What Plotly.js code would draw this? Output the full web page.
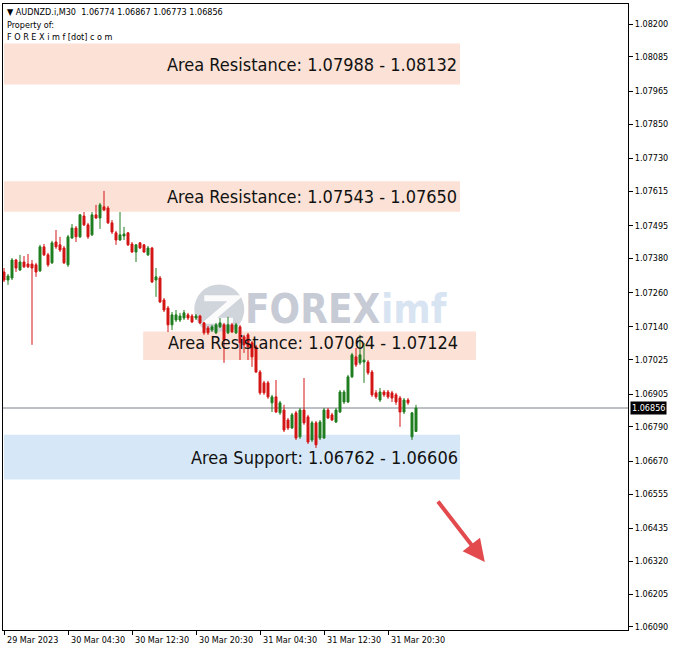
<!DOCTYPE html>
<html>
<head>
<meta charset="utf-8">
<script src="https://cdn.plot.ly/plotly-3.0.1.min.js"></script>
<style>
  html, body { margin: 0; padding: 0; background: #ffffff; }
  #chart { width: 678px; height: 652px; }
</style>
</head>
<body>
<div id="chart"></div>
<script>
// ---- DATA (AUDNZD.i, M30) ----
const opens = [1.07332,1.07304,1.07311,1.07374,1.07339,1.07367,1.07360,1.07360,1.07357,1.07336,
1.07420,1.07392,1.07364,1.07437,1.07427,1.07416,1.07357,1.07451,1.07486,1.07455,
1.07528,1.07497,1.07462,1.07532,1.07521,1.07560,1.07556,1.07504,1.07469,1.07444,
1.07458,1.07469,1.07430,1.07402,1.07434,1.07427,1.07392,1.07416,1.07304,1.07311,
1.07234,1.07206,1.07147,1.07164,1.07164,1.07171,1.07182,1.07178,1.07171,1.07178,
1.07154,1.07136,1.07129,1.07119,1.07140,1.07147,1.07119,1.07147,1.07119,1.07140,
1.07105,1.07112,1.07084,1.07070,1.06982,1.06944,1.06944,1.06874,1.06895,1.06839,
1.06849,1.06814,1.06786,1.06839,1.06755,1.06849,1.06825,1.06744,1.06804,1.06751,
1.06751,1.06849,1.06832,1.06807,1.06842,1.06877,1.06877,1.06965,1.07035,1.07014,
1.07017,1.07017,1.06982,1.06909,1.06884,1.06912,1.06912,1.06909,1.06902,1.06891,
1.06842,1.06884,1.06755,1.06774];
const highs = [1.07346,1.07325,1.07381,1.07378,1.07392,1.07388,1.07395,1.07374,1.07364,1.07427,
1.07430,1.07399,1.07441,1.07479,1.07455,1.07423,1.07462,1.07500,1.07493,1.07535,
1.07542,1.07504,1.07542,1.07567,1.07574,1.07616,1.07563,1.07514,1.07476,1.07542,
1.07490,1.07472,1.07437,1.07430,1.07437,1.07430,1.07423,1.07420,1.07346,1.07318,
1.07241,1.07213,1.07192,1.07199,1.07189,1.07199,1.07189,1.07185,1.07185,1.07182,
1.07157,1.07143,1.07147,1.07154,1.07171,1.07154,1.07175,1.07154,1.07154,1.07147,
1.07112,1.07119,1.07091,1.07077,1.06989,1.06951,1.06951,1.06902,1.06954,1.06881,
1.06867,1.06821,1.06839,1.06846,1.06856,1.06961,1.06832,1.06811,1.06811,1.06814,
1.06856,1.06856,1.06839,1.06856,1.06919,1.06919,1.06972,1.07049,1.07066,1.07112,
1.07084,1.07024,1.06989,1.06919,1.06926,1.06919,1.06919,1.06916,1.06909,1.06898,
1.06891,1.06891,1.06842,1.06867];
const lows = [1.07297,1.07287,1.07304,1.07332,1.07336,1.07346,1.07346,1.07077,1.07315,1.07332,
1.07388,1.07350,1.07360,1.07413,1.07402,1.07360,1.07350,1.07448,1.07437,1.07451,
1.07493,1.07448,1.07458,1.07518,1.07483,1.07546,1.07500,1.07465,1.07427,1.07441,
1.07444,1.07423,1.07399,1.07367,1.07413,1.07399,1.07388,1.07294,1.07245,1.07224,
1.07192,1.07122,1.07129,1.07157,1.07157,1.07164,1.07164,1.07154,1.07164,1.07150,
1.07112,1.07112,1.07122,1.07115,1.07136,1.07014,1.07115,1.07119,1.07115,1.07024,
1.07049,1.07024,1.07000,1.06979,1.06902,1.06902,1.06888,1.06842,1.06839,1.06832,
1.06772,1.06779,1.06783,1.06744,1.06748,1.06797,1.06730,1.06737,1.06716,1.06744,
1.06748,1.06818,1.06811,1.06804,1.06839,1.06870,1.06874,1.06961,1.07000,1.07007,
1.06944,1.06972,1.06895,1.06888,1.06877,1.06895,1.06888,1.06877,1.06867,1.06790,
1.06835,1.06867,1.06744,1.06773];
const closes = [1.07304,1.07318,1.07374,1.07346,1.07367,1.07350,1.07350,1.07346,1.07332,1.07420,
1.07392,1.07357,1.07434,1.07420,1.07409,1.07364,1.07455,1.07486,1.07455,1.07532,
1.07497,1.07455,1.07532,1.07521,1.07567,1.07549,1.07504,1.07472,1.07444,1.07462,
1.07465,1.07427,1.07402,1.07427,1.07416,1.07402,1.07416,1.07297,1.07315,1.07227,
1.07199,1.07147,1.07182,1.07182,1.07178,1.07189,1.07171,1.07157,1.07178,1.07154,
1.07119,1.07119,1.07140,1.07147,1.07154,1.07094,1.07147,1.07122,1.07147,1.07084,
1.07077,1.07070,1.07035,1.06982,1.06909,1.06909,1.06895,1.06895,1.06842,1.06874,
1.06779,1.06786,1.06832,1.06751,1.06849,1.06804,1.06737,1.06804,1.06727,1.06807,
1.06849,1.06821,1.06814,1.06849,1.06912,1.06912,1.06965,1.07042,1.07007,1.07042,
1.07024,1.06979,1.06902,1.06895,1.06912,1.06902,1.06895,1.06891,1.06877,1.06842,
1.06884,1.06874,1.06839,1.06856];

const xTickIdx = [0, 16, 32, 48, 64, 80, 96];
const xTickLabels = ['29 Mar 2023','30 Mar 04:30','30 Mar 12:30','30 Mar 20:30','31 Mar 04:30','31 Mar 12:30','31 Mar 20:30'];
const yTicks = [1.08200,1.08085,1.07965,1.07850,1.07730,1.07615,1.07495,1.07380,1.07260,1.07140,
                1.07025,1.06905,1.06790,1.06670,1.06555,1.06435,1.06320,1.06205,1.06090];

const bandNames = ['Area Resistance','Area Resistance','Area Resistance','Area Support'];
const bandFrom = [1.07988, 1.07543, 1.07064, 1.06762];
const bandTo   = [1.08132, 1.07650, 1.07124, 1.06606];
const currentPrice = 1.06856;
const headerSymbol = 'AUDNZD.i,M30';
const headerOHLC = [1.06774, 1.06867, 1.06773, 1.06856];

// ---- BUILD ----
const idx = opens.map((_, i) => i);

const trace = {
  type: 'candlestick',
  x: idx, open: opens, high: highs, low: lows, close: closes,
  increasing: { line: { color: '#1E7D1E', width: 1 }, fillcolor: '#1E7D1E' },
  decreasing: { line: { color: '#D41414', width: 1 }, fillcolor: '#D41414' },
  whiskerwidth: 0,
  hoverinfo: 'skip',
  showlegend: false
};

const resColor = 'rgb(252,226,214)';
const supColor = 'rgb(214,232,248)';
const shapes = [
  { type:'rect', layer:'below', xref:'x', yref:'y', x0:0, x1:114, y0:bandFrom[0], y1:bandTo[0], fillcolor:resColor, line:{width:0} },
  { type:'rect', layer:'below', xref:'x', yref:'y', x0:0, x1:114, y0:bandFrom[1], y1:bandTo[1], fillcolor:resColor, line:{width:0} },
  { type:'rect', layer:'below', xref:'x', yref:'y', x0:34.8, x1:118, y0:1.07024, y1:bandTo[2], fillcolor:resColor, line:{width:0} },
  { type:'rect', layer:'below', xref:'x', yref:'y', x0:0, x1:114, y0:bandTo[3], y1:bandFrom[3], fillcolor:supColor, line:{width:0} },
  { type:'line', layer:'below', xref:'paper', yref:'y', x0:0, x1:1, y0:currentPrice, y1:currentPrice, line:{color:'#7A8088', width:1} },
  // watermark circle
  { type:'circle', layer:'below', xref:'paper', yref:'paper', x0:0.306, x1:0.386, y0:0.472, y1:0.552,
    fillcolor:'rgba(170,176,190,0.55)', line:{width:0} },
  { type:'path', layer:'below', xref:'paper', yref:'paper',
    path:'M 0.322 0.530 L 0.372 0.530 L 0.330 0.494 L 0.368 0.494', line:{color:'rgba(255,255,255,0.9)', width:6} }
];

const bandFont = { family: 'DejaVu Sans Condensed, DejaVu Sans, Liberation Sans', size: 18, color: '#111111' };
const annotations = [];
const bandTextX = [113.7, 113.7, 113.9, 113.9];
const bandTextY = [(bandFrom[0]+bandTo[0])/2, (bandFrom[1]+bandTo[1])/2, 1.07084, (bandFrom[3]+bandTo[3])/2];
for (let k = 0; k < bandNames.length; k++) {
  annotations.push({
    xref:'x', yref:'y', x: bandTextX[k], y: bandTextY[k], xanchor:'right', yanchor:'middle',
    text: bandNames[k] + ': ' + bandFrom[k].toFixed(5) + ' - ' + bandTo[k].toFixed(5),
    showarrow:false, font: bandFont
  });
}
// x tick labels (left-aligned to tick as in MT4)
for (let k = 0; k < xTickIdx.length; k++) {
  annotations.push({
    xref:'x', yref:'paper', x: xTickIdx[k], y: 0, yshift: -10, xshift: 1,
    xanchor:'left', yanchor:'middle', text: xTickLabels[k], showarrow:false,
    font:{ family:'DejaVu Sans Condensed, DejaVu Sans', size: 9, color:'#000' }
  });
}
// current price tag
annotations.push({
  xref:'paper', yref:'y', x:1, y: currentPrice, xanchor:'left', yanchor:'middle', xshift: 2,
  text: currentPrice.toFixed(5), showarrow:false, bgcolor:'#000000', borderpad: 1,
  font:{ family:'DejaVu Sans Condensed, DejaVu Sans', size: 9, color:'#ffffff' }
});
// header
const hdrFont = { family:'DejaVu Sans Condensed, DejaVu Sans', size: 9, color:'#000' };
annotations.push({ xref:'paper', yref:'paper', x:0.003, y:1, yshift:-8, xanchor:'left', yanchor:'middle', showarrow:false,
  text: '▼ ' + headerSymbol + '  ' + headerOHLC.map(v => v.toFixed(5)).join(' '), font: hdrFont });
annotations.push({ xref:'paper', yref:'paper', x:0.003, y:1, yshift:-21, xanchor:'left', yanchor:'middle', showarrow:false,
  text: 'Property of:', font: hdrFont });
annotations.push({ xref:'paper', yref:'paper', x:0.003, y:1, yshift:-33, xanchor:'left', yanchor:'middle', showarrow:false,
  text: 'F O R E X i m f [dot] c o m', font: hdrFont });
// watermark text
annotations.push({ xref:'paper', yref:'paper', x:0.384, y:0.512, xanchor:'left', yanchor:'middle', showarrow:false,
  text: '<b>FOREX</b>', font:{ family:'DejaVu Sans Condensed, Liberation Sans', size: 40, color:'rgba(150,158,176,0.55)' } });
annotations.push({ xref:'paper', yref:'paper', x:0.601, y:0.512, xanchor:'left', yanchor:'middle', showarrow:false,
  text: '<b>imf</b>', font:{ family:'DejaVu Sans Condensed, Liberation Sans', size: 40, color:'rgba(185,205,232,0.55)' } });
// arrow
annotations.push({ xref:'x', yref:'y', x: 120.2, y: 1.06317, ax: -48, ay: -62, text:'', showarrow:true,
  arrowhead: 2, arrowsize: 1.1, arrowwidth: 4, arrowcolor:'#E24A4E' });

const layout = {
  width: 678, height: 652,
  margin: { l: 3, r: 50, t: 4, b: 22 },
  paper_bgcolor: '#ffffff', plot_bgcolor: '#ffffff',
  showlegend: false,
  boxgap: 0.3,
  xaxis: {
    range: [-0.25, 156], showgrid: false, zeroline: false, fixedrange: true,
    rangeslider: { visible: false },
    tickmode: 'array', tickvals: xTickIdx, ticktext: xTickLabels, showticklabels: false,
    ticks: 'outside', ticklen: 4, tickcolor: '#000',
    showline: true, linecolor: '#000', linewidth: 1, mirror: true
  },
  yaxis: {
    side: 'right', range: [1.06079, 1.08270], showgrid: false, zeroline: false, fixedrange: true,
    tickmode: 'array', tickvals: yTicks, ticktext: yTicks.map(v => v.toFixed(5)),
    ticks: 'outside', ticklen: 4, tickcolor: '#000',
    tickfont: { family: 'DejaVu Sans Condensed, DejaVu Sans', size: 9, color: '#000' },
    showline: true, linecolor: '#000', linewidth: 1, mirror: true
  },
  shapes: shapes,
  annotations: annotations
};

Plotly.newPlot('chart', [trace], layout, { displayModeBar: false, staticPlot: true });
</script>
</body>
</html>
